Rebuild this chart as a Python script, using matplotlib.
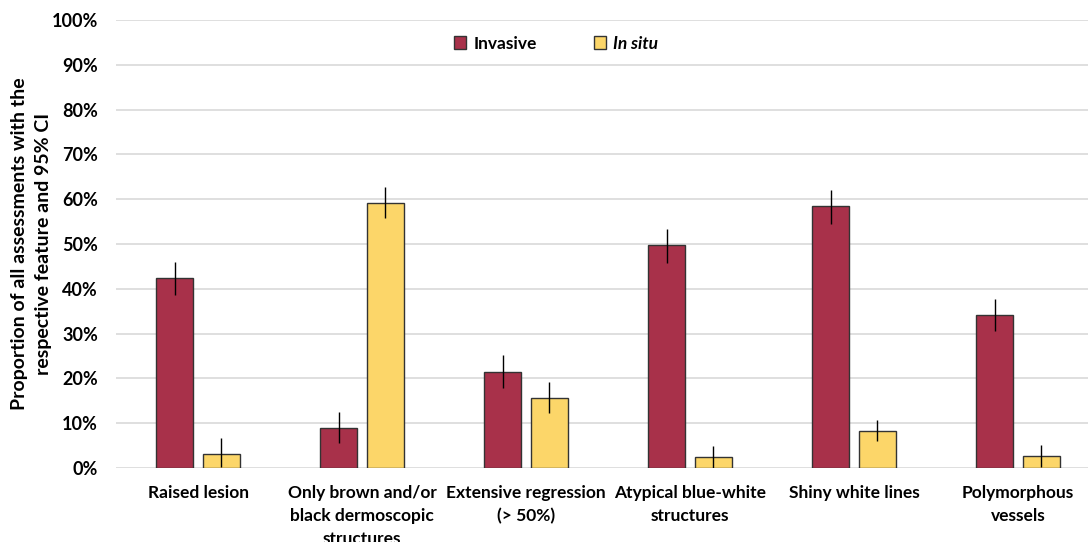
import numpy as np
import matplotlib
matplotlib.use("Agg")
import matplotlib.pyplot as plt
from matplotlib.ticker import PercentFormatter

categories = [
    "Raised lesion",
    "Only brown and/or\nblack dermoscopic\nstructures",
    "Extensive regression\n(> 50%)",
    "Atypical blue-white\nstructures",
    "Shiny white lines",
    "Polymorphous\nvessels",
]
invasive = [42.3, 8.9, 21.5, 49.7, 58.4, 34.2]
invasive_lo = [38.6, 5.6, 17.9, 45.8, 54.5, 30.6]
invasive_hi = [46.0, 12.5, 25.2, 53.4, 62.1, 37.7]
in_situ = [3.2, 59.2, 15.7, 2.5, 8.3, 2.7]
in_situ_lo = [0.2, 55.8, 12.3, 0.1, 6.0, 0.2]
in_situ_hi = [6.8, 62.8, 19.1, 4.9, 10.8, 5.1]

plt.rcParams["font.family"] = ["Lato", "DejaVu Sans"]
plt.rcParams["font.weight"] = "bold"

W, H = 1088, 542
fig = plt.figure(figsize=(W / 100, H / 100), dpi=100)
# axes spans a bit past the right edge, as in the reference crop
ax = fig.add_axes([116 / W, (H - 468) / H, 984 / W, 448 / H])

x = np.arange(len(categories))
w = 0.225
off = 0.143
inv = np.array(invasive)
ins = np.array(in_situ)
inv_err = [inv - np.array(invasive_lo), np.array(invasive_hi) - inv]
ins_err = [ins - np.array(in_situ_lo), np.array(in_situ_hi) - ins]

ax.bar(x - off, inv, w, color="#A8314A", edgecolor="#333333", lw=1, label="Invasive", zorder=3)
ax.bar(x + off, ins, w, color="#FCD669", edgecolor="#333333", lw=1, label="In situ", zorder=3)
ax.errorbar(x - off, inv, yerr=inv_err, fmt="none", ecolor="black", elinewidth=1, capsize=0, zorder=4)
ax.errorbar(x + off, ins, yerr=ins_err, fmt="none", ecolor="black", elinewidth=1, capsize=0, zorder=4)

ax.set_xlim(-0.5, len(categories) - 0.5)
ax.set_ylim(0, 100)
ax.set_yticks(np.arange(0, 101, 10))
ax.yaxis.set_major_formatter(PercentFormatter(decimals=0))
ax.grid(axis="y", color="#d9d9d9", lw=1.2, zorder=0)
for s in ax.spines.values():
    s.set_visible(False)
ax.tick_params(axis="both", length=0)
ax.tick_params(axis="y", pad=13, labelsize=13)
ax.tick_params(axis="x", pad=12, labelsize=12.5)
ax.set_xticks(x)
ax.set_xticklabels(categories, fontweight="bold", linespacing=1.55)
for t in ax.get_yticklabels():
    t.set_fontweight("bold")

ax.set_ylabel("Proportion of all assessments with the\nrespective feature and 95% CI",
              fontsize=14, fontweight="bold", labelpad=0, linespacing=1.45)

leg = ax.legend(loc="upper center", bbox_to_anchor=(440 / 984, 1.0), ncol=2, frameon=False,
                fontsize=12.5, handlelength=0.7, handleheight=0.7, columnspacing=3.3,
                handletextpad=0.4)
leg.get_texts()[1].set_fontstyle("italic")

fig.savefig("out.png", dpi=100)
